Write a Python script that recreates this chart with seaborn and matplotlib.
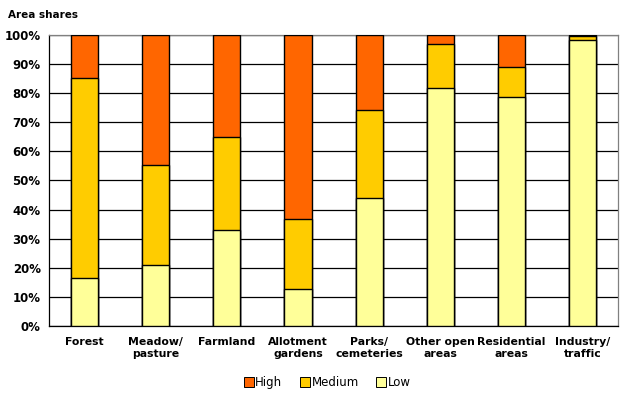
import matplotlib
matplotlib.use("Agg")
import matplotlib.pyplot as plt
import matplotlib.ticker as mticker
from matplotlib.lines import Line2D
import numpy as np
import pandas as pd
import seaborn as sns

# area shares per land-use class (percent)
categories = ["Forest", "Meadow/\npasture", "Farmland", "Allotment\ngardens",
              "Parks/\ncemeteries", "Other open\nareas", "Residential\nareas",
              "Industry/\ntraffic"]
low = [16.6, 21.1, 33.1, 12.8, 44.0, 81.8, 78.7, 98.3]
medium = [68.7, 34.3, 31.7, 24.0, 30.3, 15.2, 10.4, 1.3]
high = [14.7, 44.6, 35.2, 63.2, 25.7, 3.0, 10.9, 0.4]

series_names = ["High", "Medium", "Low"]
colors = {"High": "#FF6600", "Medium": "#FFCC00", "Low": "#FFFF99"}

df = pd.DataFrame({"category": categories, "Low": low, "Medium": medium, "High": high})
df["cum_low"] = df["Low"]
df["cum_medium"] = df["Low"] + df["Medium"]
df["cum_high"] = df["cum_medium"] + df["High"]

sns.set_style("white")
plt.rcParams["font.family"] = ["DejaVu Sans"]
plt.rcParams["text.color"] = "black"
plt.rcParams["xtick.color"] = "black"
plt.rcParams["ytick.color"] = "black"

fig = plt.figure(figsize=(6.2, 4.0), dpi=100)
ax = fig.add_axes([0.079, 0.185, 0.918, 0.7275])

# draw stacks from the top layer down so lower layers sit in front
for col, name in [("cum_high", "High"), ("cum_medium", "Medium"), ("cum_low", "Low")]:
    sns.barplot(data=df, x="category", y=col, color=colors[name], width=0.38,
                edgecolor="black", linewidth=1.0, saturation=1, ax=ax, zorder=3)

ax.set_ylim(0, 100)
ax.set_xlim(-0.5, len(categories) - 0.5)
ax.yaxis.set_major_locator(mticker.MultipleLocator(10))
ax.yaxis.set_major_formatter(mticker.FuncFormatter(lambda v, p: f"{int(v)}%"))
ax.grid(axis="y", color="black", linewidth=0.9, zorder=0)
ax.set_axisbelow(True)

ax.set_xlabel("")
ax.set_ylabel("")
ax.set_xticks(range(len(categories)))
ax.set_xticklabels(categories, fontsize=7.8, fontweight="bold", linespacing=1.25)
ax.tick_params(axis="x", length=0, pad=8)
ax.set_xticks(np.arange(-0.5, len(categories), 1), minor=True)
ax.tick_params(axis="x", which="minor", length=4, direction="out", color="black", width=0.9)
ax.tick_params(axis="y", length=4, direction="out", color="black", width=0.9,
               labelsize=8.5, pad=2)
for lbl in ax.get_yticklabels():
    lbl.set_fontweight("bold")

for side in ["left", "bottom"]:
    ax.spines[side].set_color("black")
    ax.spines[side].set_linewidth(0.9)
for side in ["top", "right"]:
    ax.spines[side].set_color("#808080")
    ax.spines[side].set_linewidth(0.9)

fig.text(0.013, 0.962, "Area shares", fontsize=7.5, fontweight="bold", va="center")

handles = [Line2D([0], [0], marker="s", linestyle="none", markersize=6.5,
                  markerfacecolor=colors[n], markeredgecolor="black",
                  markeredgewidth=0.7, label=n) for n in series_names]
fig.legend(handles=handles, loc="center", bbox_to_anchor=(0.527, 0.043), ncol=3,
           frameon=False, fontsize=8.5, handletextpad=0.05, columnspacing=1.4,
           handlelength=1.0)

fig.savefig("out.png", dpi=100)
